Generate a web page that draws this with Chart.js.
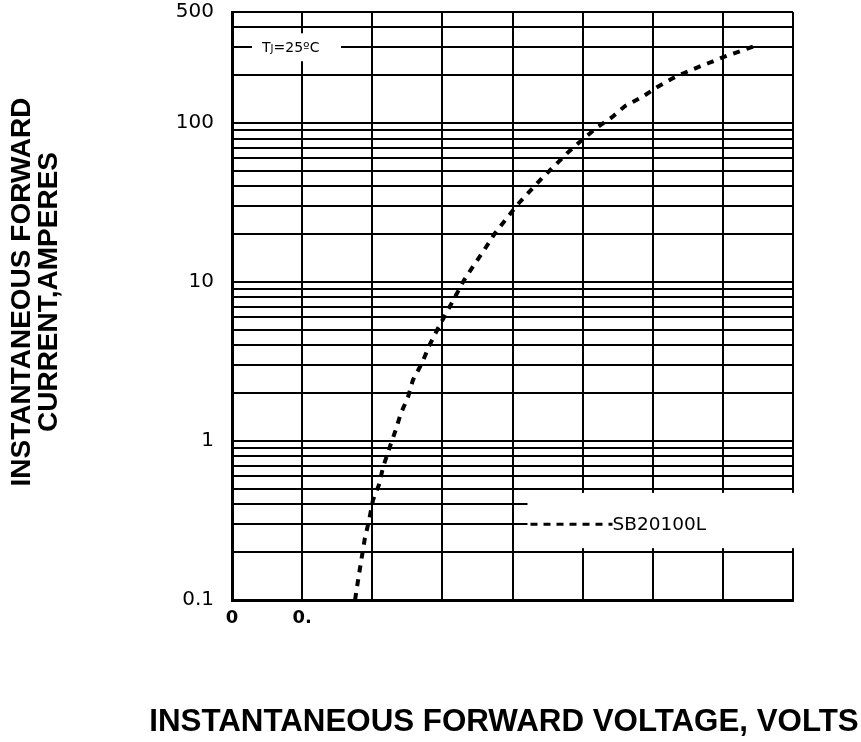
<!DOCTYPE html>
<html>
<head>
<meta charset="utf-8">
<script src="https://cdn.jsdelivr.net/npm/chart.js@4.4.1/dist/chart.umd.min.js"></script>
<style>
  html, body { margin: 0; padding: 0; background: #ffffff; }
  #wrap { width: 861px; height: 742px; }
</style>
</head>
<body>
<div id="wrap"><canvas id="c" width="861" height="742"></canvas></div>
<script>
// ---- data ----
const voltage = [0.351, 0.354, 0.362, 0.371, 0.379, 0.391, 0.402, 0.419, 0.431, 0.448,
                 0.465, 0.482, 0.502, 0.516, 0.542, 0.562, 0.588, 0.611, 0.636, 0.662,
                 0.690, 0.719, 0.750, 0.779, 0.813, 0.847, 0.884, 0.922, 0.959, 1.001,
                 1.039, 1.084, 1.121, 1.170, 1.212, 1.258, 1.307, 1.358, 1.401, 1.458, 1.498];
const current = [0.100, 0.111, 0.144, 0.191, 0.245, 0.318, 0.425, 0.529, 0.686, 0.891,
                 1.14, 1.50, 1.89, 2.42, 3.10, 3.96, 5.14, 6.38, 8.05, 10.3,
                 12.8, 15.9, 20.3, 24.5, 30.5, 36.8, 45.1, 54.5, 65.7, 79.3,
                 93.1, 109, 128, 146, 168, 192, 215, 238, 260, 288, 310];
const seriesName = "SB20100L";
const xTickValues = [0, 0.2, 0.4, 0.6, 0.8, 1.0, 1.2, 1.4, 1.6];
const xTickLabels = ["0", "0.", "", "", "", "", "", "", ""];
const yGridValues = [0.1,0.2,0.3,0.4,0.5,0.6,0.7,0.8,0.9,
                     1,2,3,4,5,6,7,8,9,
                     10,20,30,40,50,60,70,80,90,
                     100,200,300,400,500];
const yTickLabelValues = [0.1, 1, 10, 100, 500];
const yTickLabels = ["0.1", "1", "10", "100", "500"];
const xTitle = "INSTANTANEOUS FORWARD VOLTAGE, VOLTS";
const yTitle = ["INSTANTANEOUS FORWARD", "CURRENT,AMPERES"];
const tjLabel = { main: "T", sub: "J", rest: "=25\u00BAC", atCurrent: 300 };

const points = voltage.map((v, i) => ({ x: v, y: current[i] }));

const annotations = {
  id: 'annotations',
  afterDraw(chart) {
    const ctx = chart.ctx;
    const xs = chart.scales.x, ys = chart.scales.y, ca = chart.chartArea;
    ctx.save();
    // Tj label on the 300 A gridline
    const ty = ys.getPixelForValue(tjLabel.atCurrent);
    ctx.fillStyle = '#ffffff';
    ctx.fillRect(ca.left + 20, ty - 14, 89, 28);
    ctx.fillStyle = '#000000';
    ctx.textBaseline = 'alphabetic';
    ctx.textAlign = 'left';
    let tx = ca.left + 30;
    const base = ty + 5;
    ctx.font = '14px "DejaVu Sans"';
    ctx.fillText(tjLabel.main, tx, base);
    tx += ctx.measureText(tjLabel.main).width;
    ctx.font = '10px "DejaVu Sans"';
    ctx.fillText(tjLabel.sub, tx, base);
    tx += ctx.measureText(tjLabel.sub).width;
    ctx.font = '14px "DejaVu Sans"';
    ctx.fillText(tjLabel.rest, tx, base);

    // legend box
    const top = ys.getPixelForValue(0.5) + 4;
    const bottom = ys.getPixelForValue(0.2) - 4;
    const left = xs.getPixelForValue(0.8) + 15;
    ctx.fillStyle = '#ffffff';
    ctx.fillRect(left, top, ca.right + 3 - left, bottom - top);
    const ly = ys.getPixelForValue(0.3);
    ctx.strokeStyle = '#000000';
    ctx.lineWidth = 3;
    ctx.setLineDash([7, 6]);
    ctx.beginPath();
    ctx.moveTo(left + 3, ly);
    ctx.lineTo(left + 85, ly);
    ctx.stroke();
    ctx.setLineDash([]);
    ctx.fillStyle = '#000000';
    ctx.font = '18.5px "DejaVu Sans"';
    ctx.textBaseline = 'middle';
    ctx.fillText(seriesName, left + 85, ly + 1);

    // axis titles
    ctx.font = 'bold 31.3px "Liberation Sans", Arial, sans-serif';
    ctx.textAlign = 'center';
    ctx.textBaseline = 'middle';
    ctx.fillText(xTitle, 504, 722);

    ctx.font = 'bold 28px "Liberation Sans", Arial, sans-serif';
    ctx.translate(0, 292);
    ctx.rotate(-Math.PI / 2);
    ctx.fillText(yTitle[0], 0, 22);
    ctx.fillText(yTitle[1], 0, 49);
    ctx.restore();
  }
};

new Chart(document.getElementById('c'), {
  type: 'line',
  data: {
    datasets: [{
      label: seriesName,
      data: points,
      borderColor: '#000000',
      borderWidth: 4,
      borderDash: [7, 7],
      pointRadius: 0,
      tension: 0,
      fill: false
    }]
  },
  options: {
    responsive: false,
    animation: false,
    devicePixelRatio: 1,
    layout: { padding: { top: 12, right: 68, left: 0, bottom: 0 } },
    plugins: { legend: { display: false }, tooltip: { enabled: false } },
    scales: {
      x: {
        type: 'linear',
        min: 0, max: 1.6,
        afterBuildTicks(scale) { scale.ticks = xTickValues.map(v => ({ value: v })); },
        afterFit(scale) { scale.height = 142; scale.paddingLeft = 0; scale.paddingRight = 0; },
        grid: { color: '#000000', lineWidth: 2, drawTicks: false },
        border: { color: '#000000', width: 3 },
        ticks: {
          autoSkip: false, maxRotation: 0, padding: 8,
          color: '#000000',
          font: { family: 'DejaVu Sans', size: 18, weight: 'bold' },
          callback: (v, i) => xTickLabels[i]
        }
      },
      y: {
        type: 'logarithmic',
        min: 0.1, max: 500,
        afterBuildTicks(scale) { scale.ticks = yGridValues.map(v => ({ value: v })); },
        afterFit(scale) { scale.width = 232; scale.paddingTop = 0; scale.paddingBottom = 0; },
        grid: { color: '#000000', lineWidth: 2, drawTicks: false },
        border: { color: '#000000', width: 3 },
        ticks: {
          autoSkip: false, padding: 18,
          color: '#000000',
          font: { family: 'DejaVu Sans', size: 20 },
          callback: (v) => {
            const k = yTickLabelValues.findIndex(t => Math.abs(t - v) < 1e-9 * Math.max(1, v));
            return k >= 0 ? yTickLabels[k] : '';
          }
        }
      }
    }
  },
  plugins: [annotations]
});
</script>
</body>
</html>
